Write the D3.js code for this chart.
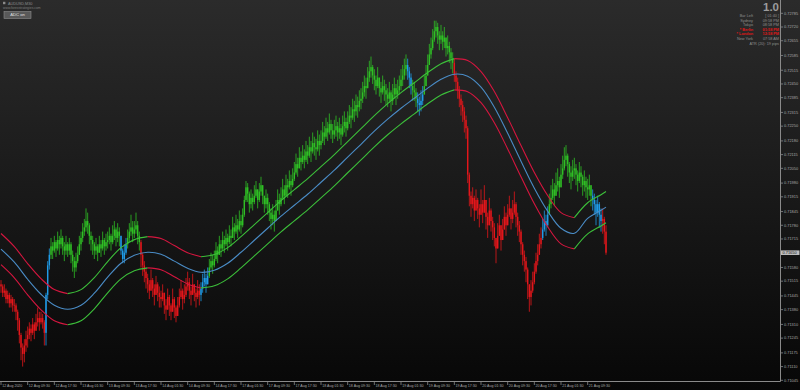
<!DOCTYPE html>
<html><head><meta charset="utf-8">
<script src="https://cdn.jsdelivr.net/npm/d3@7"></script>
<style>html,body{margin:0;padding:0;background:#111;}svg{display:block;}</style>
</head><body>
<svg id="c" width="800" height="390"></svg>
<script>
// ---------- DATA ----------
const timeLabels = ["12 Aug 2020","12 Aug 09:30","12 Aug 17:30","13 Aug 01:30","13 Aug 09:30","13 Aug 17:30","14 Aug 01:30","14 Aug 09:30","14 Aug 17:30","17 Aug 01:30","17 Aug 09:30","17 Aug 17:30","18 Aug 01:30","18 Aug 09:30","18 Aug 17:30","19 Aug 01:30","19 Aug 09:30","19 Aug 17:30","20 Aug 01:30","20 Aug 09:30","20 Aug 17:30","21 Aug 01:30","21 Aug 09:30"];
const barsPerLabel = 16;
const priceLabels = [0.72785,0.72720,0.72655,0.72585,0.72515,0.72450,0.72385,0.72315,0.72250,0.72180,0.72115,0.72050,0.71980,0.71915,0.71845,0.71780,0.71715,0.71580,0.71515,0.71445,0.71380,0.71310,0.71245,0.71175,0.71110,0.71045];
const currentPrice = 0.71650;
const firstOpen = 0.7150;
const closes = [
.7149,.7146,.7147,.7143,.7145,.7141,.7143,.7140,
.7140,.7137,.7133,.7126,.7120,.7117,.7121,.7124,
.7126,.7129,.7127,.7131,.7128,.7132,.7134,.7132,
.7134,.7132,.7127,.7145,.7159,.7164,.7168,.7166,
.7170,.7167,.7171,.7169,.7172,.7168,.7166,.7169,
.7166,.7169,.7164,.7161,.7158,.7161,.7164,.7169,
.7172,.7175,.7177,.7180,.7178,.7173,.7171,.7169,
.7166,.7168,.7165,.7169,.7167,.7171,.7168,.7170,
.7171,.7173,.7170,.7173,.7176,.7172,.7175,.7173,
.7166,.7162,.7165,.7169,.7172,.7175,.7177,.7174,
.7176,.7178,.7173,.7170,.7164,.7159,.7156,.7153,
.7150,.7147,.7152,.7148,.7145,.7150,.7146,.7144,
.7143,.7146,.7140,.7138,.7144,.7140,.7137,.7143,
.7139,.7135,.7140,.7144,.7147,.7143,.7145,.7149,
.7151,.7147,.7145,.7150,.7146,.7144,.7147,.7145,
.7148,.7151,.7153,.7150,.7154,.7158,.7161,.7159,
.7162,.7166,.7164,.7169,.7167,.7171,.7169,.7172,
.7170,.7173,.7172,.7177,.7175,.7178,.7176,.7180,
.7178,.7183,.7190,.7196,.7193,.7188,.7191,.7189,
.7192,.7195,.7190,.7194,.7197,.7192,.7188,.7191,
.7188,.7184,.7181,.7183,.7180,.7185,.7190,.7188,
.7191,.7195,.7192,.7197,.7196,.7199,.7197,.7200,
.7203,.7207,.7205,.7210,.7208,.7211,.7209,.7213,
.7211,.7215,.7213,.7217,.7215,.7214,.7218,.7216,
.7218,.7222,.7220,.7224,.7222,.7226,.7223,.7221,
.7223,.7225,.7222,.7224,.7221,.7225,.7227,.7224,
.7227,.7230,.7229,.7233,.7232,.7235,.7234,.7237,
.7238,.7241,.7244,.7243,.7248,.7251,.7253,.7249,
.7247,.7244,.7248,.7243,.7241,.7244,.7242,.7240,
.7238,.7241,.7237,.7240,.7243,.7240,.7242,.7244,
.7247,.7249,.7252,.7254,.7251,.7248,.7244,.7242,
.7241,.7238,.7236,.7235,.7237,.7240,.7244,.7249,
.7254,.7259,.7262,.7266,.7270,.7272,.7268,.7266,
.7268,.7265,.7267,.7262,.7263,.7260,.7257,.7255,
.7249,.7246,.7242,.7238,.7235,.7232,.7228,.7224,
.7202,.7192,.7188,.7191,.7185,.7190,.7186,.7183,
.7188,.7184,.7190,.7182,.7178,.7185,.7180,.7177,
.7172,.7167,.7173,.7178,.7171,.7176,.7182,.7178,
.7183,.7186,.7181,.7184,.7188,.7182,.7178,.7175,
.7169,.7164,.7161,.7157,.7150,.7144,.7147,.7151,
.7156,.7161,.7164,.7169,.7172,.7176,.7180,.7178,
.7183,.7188,.7191,.7195,.7192,.7197,.7199,.7196,
.7202,.7205,.7209,.7211,.7207,.7203,.7201,.7204,
.7205,.7202,.7199,.7203,.7201,.7197,.7199,.7196,
.7195,.7197,.7192,.7190,.7188,.7184,.7188,.7183,
.7180,.7181,.7175,.7165];
const highs = [
.7152,.7150,.7150,.7148,.7147,.7146,.7145,.7144,
.7143,.7141,.7138,.7134,.7127,.7122,.7124,.7128,
.7130,.7132,.7131,.7134,.7132,.7136,.7139,.7137,
.7137,.7136,.7133,.7146,.7161,.7167,.7172,.7170,
.7173,.7171,.7175,.7173,.7176,.7173,.7170,.7173,
.7170,.7172,.7170,.7166,.7163,.7165,.7168,.7173,
.7175,.7179,.7181,.7186,.7184,.7179,.7175,.7173,
.7170,.7172,.7169,.7173,.7171,.7175,.7172,.7174,
.7175,.7177,.7174,.7178,.7180,.7177,.7179,.7177,
.7172,.7167,.7169,.7172,.7176,.7179,.7183,.7180,
.7180,.7184,.7180,.7175,.7171,.7165,.7161,.7158,
.7155,.7152,.7157,.7153,.7150,.7154,.7151,.7149,
.7147,.7150,.7145,.7143,.7148,.7145,.7141,.7148,
.7144,.7140,.7144,.7148,.7152,.7148,.7150,.7153,
.7156,.7153,.7149,.7155,.7150,.7148,.7152,.7150,
.7151,.7155,.7157,.7155,.7158,.7162,.7165,.7164,
.7166,.7170,.7168,.7173,.7171,.7175,.7173,.7176,
.7174,.7178,.7176,.7182,.7179,.7183,.7181,.7185,
.7183,.7186,.7192,.7199,.7198,.7194,.7195,.7193,
.7197,.7199,.7195,.7198,.7201,.7197,.7192,.7195,
.7193,.7189,.7186,.7188,.7185,.7190,.7195,.7193,
.7196,.7200,.7197,.7202,.7200,.7204,.7202,.7205,
.7208,.7212,.7210,.7215,.7213,.7216,.7214,.7218,
.7216,.7220,.7218,.7222,.7220,.7219,.7223,.7221,
.7223,.7227,.7225,.7229,.7227,.7231,.7228,.7226,
.7228,.7230,.7227,.7229,.7226,.7230,.7232,.7229,
.7232,.7235,.7234,.7238,.7237,.7240,.7239,.7242,
.7243,.7246,.7249,.7248,.7253,.7256,.7258,.7254,
.7252,.7249,.7253,.7248,.7246,.7249,.7247,.7245,
.7243,.7246,.7242,.7245,.7248,.7245,.7247,.7249,
.7252,.7254,.7257,.7259,.7257,.7253,.7250,.7247,
.7246,.7243,.7241,.7239,.7242,.7244,.7249,.7254,
.7259,.7264,.7267,.7271,.7275,.7275,.7274,.7270,
.7273,.7270,.7272,.7267,.7268,.7265,.7262,.7260,
.7257,.7251,.7248,.7244,.7240,.7237,.7234,.7230,
.7225,.7203,.7194,.7196,.7192,.7195,.7191,.7188,
.7195,.7190,.7197,.7188,.7184,.7191,.7186,.7182,
.7179,.7172,.7179,.7183,.7177,.7181,.7187,.7184,
.7188,.7192,.7186,.7190,.7194,.7189,.7184,.7180,
.7176,.7170,.7166,.7163,.7158,.7150,.7152,.7156,
.7160,.7165,.7169,.7174,.7177,.7181,.7185,.7183,
.7187,.7193,.7197,.7200,.7198,.7203,.7205,.7201,
.7207,.7211,.7215,.7216,.7212,.7208,.7206,.7209,
.7210,.7207,.7204,.7208,.7206,.7202,.7204,.7201,
.7200,.7202,.7197,.7195,.7193,.7190,.7192,.7189,
.7186,.7186,.7182,.7178];
const lows = [
.7146,.7144,.7144,.7141,.7141,.7139,.7139,.7137,
.7137,.7133,.7128,.7122,.7114,.7111,.7113,.7118,
.7120,.7124,.7123,.7126,.7124,.7128,.7130,.7128,
.7131,.7129,.7121,.7121,.7143,.7157,.7162,.7162,
.7165,.7163,.7166,.7164,.7167,.7164,.7161,.7164,
.7163,.7164,.7160,.7156,.7153,.7156,.7160,.7164,
.7166,.7170,.7173,.7175,.7174,.7169,.7166,.7164,
.7162,.7164,.7161,.7165,.7163,.7166,.7164,.7166,
.7167,.7169,.7166,.7169,.7171,.7168,.7170,.7168,
.7164,.7160,.7160,.7164,.7167,.7170,.7173,.7170,
.7172,.7174,.7169,.7166,.7158,.7154,.7151,.7148,
.7146,.7143,.7147,.7144,.7140,.7145,.7142,.7139,
.7139,.7142,.7136,.7133,.7139,.7135,.7133,.7138,
.7134,.7132,.7135,.7139,.7143,.7138,.7141,.7144,
.7147,.7143,.7140,.7145,.7142,.7139,.7143,.7140,
.7142,.7146,.7149,.7146,.7150,.7153,.7157,.7155,
.7158,.7161,.7160,.7164,.7163,.7166,.7165,.7168,
.7166,.7169,.7168,.7172,.7171,.7174,.7172,.7175,
.7174,.7177,.7182,.7189,.7189,.7184,.7186,.7185,
.7188,.7191,.7186,.7189,.7192,.7188,.7184,.7186,
.7183,.7180,.7176,.7178,.7175,.7180,.7185,.7183,
.7187,.7190,.7188,.7192,.7191,.7195,.7192,.7196,
.7199,.7202,.7201,.7205,.7204,.7207,.7205,.7208,
.7207,.7210,.7208,.7212,.7211,.7209,.7213,.7211,
.7214,.7217,.7216,.7219,.7218,.7221,.7219,.7217,
.7219,.7220,.7218,.7219,.7216,.7220,.7222,.7220,
.7223,.7226,.7224,.7228,.7227,.7230,.7229,.7232,
.7233,.7236,.7239,.7238,.7243,.7246,.7248,.7245,
.7242,.7240,.7243,.7239,.7236,.7240,.7237,.7235,
.7234,.7236,.7232,.7235,.7238,.7235,.7238,.7240,
.7242,.7244,.7247,.7249,.7247,.7243,.7240,.7237,
.7237,.7234,.7232,.7230,.7232,.7235,.7240,.7244,
.7249,.7254,.7257,.7261,.7265,.7267,.7264,.7261,
.7264,.7261,.7262,.7258,.7259,.7255,.7252,.7250,
.7246,.7242,.7238,.7234,.7230,.7227,.7222,.7219,
.7198,.7187,.7182,.7186,.7180,.7185,.7181,.7177,
.7183,.7179,.7185,.7176,.7172,.7180,.7175,.7171,
.7168,.7160,.7168,.7173,.7166,.7171,.7177,.7173,
.7178,.7182,.7176,.7179,.7183,.7177,.7173,.7170,
.7164,.7159,.7156,.7151,.7143,.7137,.7140,.7146,
.7150,.7155,.7159,.7164,.7167,.7171,.7175,.7173,
.7177,.7183,.7186,.7190,.7187,.7192,.7194,.7191,
.7197,.7200,.7204,.7206,.7201,.7198,.7195,.7199,
.7200,.7197,.7194,.7198,.7196,.7192,.7194,.7191,
.7190,.7192,.7187,.7185,.7183,.7178,.7182,.7177,
.7175,.7174,.7169,.7164];
// candle colour runs: [first bar index, state]
const colorRuns = [[0,"down"],[27,"flat"],[30,"up"],[72,"flat"],[76,"up"],[84,"down"],[120,"flat"],[125,"up"],[244,"flat"],[247,"up"],[250,"flat"],[254,"up"],[272,"down"],[325,"flat"],[329,"up"],[355,"flat"],[361,"down"]];
// channel centre line, sampled at bar indices
const midBars = [0,8,16,24,32,40,48,56,64,72,80,88,96,104,112,120,128,136,144,152,160,168,176,184,192,200,208,216,224,232,240,248,256,264,272,280,288,296,304,312,320,328,336,344,352,360,363];
const midValues = [0.71667,0.71605,0.71524,0.71453,0.71401,0.71382,0.71401,0.71458,0.71534,0.71600,0.71638,0.71652,0.71643,0.71610,0.71576,0.71557,0.71567,0.71600,0.71652,0.71709,0.71766,0.71823,0.71875,0.71927,0.71984,0.72041,0.72103,0.72164,0.72226,0.72283,0.72335,0.72382,0.72430,0.72472,0.72496,0.72487,0.72435,0.72340,0.72216,0.72084,0.71956,0.71847,0.71766,0.71742,0.71813,0.71851,0.71866];
const bandWidth = 0.00074;
const infoLabels = ["Bar Left","Sydney","Tokyo","* Berlin","* London","New York"];
const infoValues = ["[ 01:40 ]","09:58 PM","08:58 PM","01:58 PM","12:58 PM","07:58 AM"];
const infoHot = [false,false,false,true,true,false];
const atrText = "ATR (20): 19 pips";
const versionText = "1.0";

// ---------- DRAW ----------
const W = 800, H = 390;
const plotRight = 780, plotBottom = 381;
const svg = d3.select("#c");
const FONT = "'Liberation Sans', Arial, sans-serif";

const defs = svg.append("defs");
const grad = defs.append("linearGradient").attr("id","bg").attr("x1",0).attr("y1",0).attr("x2",0).attr("y2",1);
grad.append("stop").attr("offset","0%").attr("stop-color","#2b2b2b");
grad.append("stop").attr("offset","100%").attr("stop-color","#070707");
svg.append("rect").attr("width",W).attr("height",H).attr("fill","url(#bg)");

const x = d3.scaleLinear().domain([0, barsPerLabel]).range([1, 1 + 26.667]);
const y = d3.scaleLinear().domain([priceLabels[priceLabels.length-1], priceLabels[0]]).range([380.3, 13.3]);

const colors = {down:"#e3161b", up:"#2fbf25", flat:"#1f9ce8"};
function stateAt(i){ let s = colorRuns[0][1]; for (const r of colorRuns){ if (r[0] <= i) s = r[1]; } return s; }

const bars = closes.map((c,i) => {
  const o = i ? closes[i-1] : firstOpen;
  return {i, o, c, h: Math.max(highs[i], o, c), l: Math.min(lows[i], o, c), s: stateAt(i)};
});

const gC = svg.append("g");
gC.selectAll("line.w").data(bars).join("line")
  .attr("x1", d => x(d.i)).attr("x2", d => x(d.i))
  .attr("y1", d => y(d.h)).attr("y2", d => y(d.l))
  .attr("stroke", d => colors[d.s]).attr("stroke-width", 0.8);
gC.selectAll("rect.b").data(bars).join("rect")
  .attr("x", d => x(d.i) - 0.7).attr("width", 1.4)
  .attr("y", d => y(Math.max(d.o, d.c)))
  .attr("height", d => Math.max(0.6, Math.abs(y(d.o) - y(d.c))))
  .attr("fill", d => colors[d.s]);

// channel lines
const mid = midBars.map((b,k) => ({b, v: midValues[k]}));
const line = d3.line().x(d => x(d.b)).y(d => y(d.v)).curve(d3.curveCatmullRom);
function runs(offset){
  const out = []; let cur = null;
  for (let k = 1; k < mid.length; k++){
    const up = mid[k].v >= mid[k-1].v;
    const p0 = {b: mid[k-1].b, v: mid[k-1].v + offset}, p1 = {b: mid[k].b, v: mid[k].v + offset};
    if (!cur || cur.up !== up){ cur = {up, pts:[p0]}; out.push(cur); }
    cur.pts.push(p1);
  }
  return out;
}
const gL = svg.append("g").attr("fill","none");
[bandWidth, -bandWidth].forEach(off => {
  runs(off).forEach(r => {
    gL.append("path").attr("d", line(r.pts)).attr("stroke", r.up ? "#3cbf3a" : "#d5163f").attr("stroke-width", 1.1);
  });
});
gL.append("path").attr("d", line(mid.map(d => ({b:d.b, v:d.v})))).attr("stroke", "#4a8cc6").attr("stroke-width", 1.1);

// axes frame
svg.append("line").attr("x1", plotRight+0.5).attr("x2", plotRight+0.5).attr("y1", 0).attr("y2", plotBottom+0.5).attr("stroke","#8a8a8a").attr("stroke-width",1);
svg.append("line").attr("x1", 0).attr("x2", plotRight+0.5).attr("y1", plotBottom+0.5).attr("y2", plotBottom+0.5).attr("stroke","#8a8a8a").attr("stroke-width",1);

// price axis
const gY = svg.append("g");
priceLabels.forEach(v => {
  const yy = y(v);
  gY.append("line").attr("x1", plotRight).attr("x2", plotRight+3).attr("y1", yy).attr("y2", yy).attr("stroke","#8a8a8a").attr("stroke-width",0.8);
  gY.append("text").attr("x", plotRight+4).attr("y", yy+1.3).text(v.toFixed(5))
    .attr("font-family", FONT).attr("font-size", 3.9).attr("fill", "#a8a8a8");
});
const cp = y(currentPrice);
gY.append("rect").attr("x", plotRight+1).attr("y", cp-2.3).attr("width", 18.5).attr("height", 4.6).attr("fill", "#bdbdbd");
gY.append("text").attr("x", plotRight+2.5).attr("y", cp+1.4).text(currentPrice.toFixed(5))
  .attr("font-family", FONT).attr("font-size", 3.9).attr("fill", "#111");

// time axis
const gX = svg.append("g");
timeLabels.forEach((t,k) => {
  const xx = x(k*barsPerLabel);
  gX.append("line").attr("x1", xx).attr("x2", xx).attr("y1", plotBottom).attr("y2", plotBottom+4).attr("stroke","#8a8a8a").attr("stroke-width",0.8);
  gX.append("text").attr("x", xx+1.2).attr("y", plotBottom+5.8).text(t)
    .attr("font-family", FONT).attr("font-size", 3.6).attr("fill", "#a8a8a8");
});

// top-left header
const gT = svg.append("g").attr("font-family", FONT);
gT.append("rect").attr("x",3).attr("y",1.8).attr("width",2.4).attr("height",2.4).attr("fill","#8a8a8a");
gT.append("text").attr("x",8).attr("y",4.6).text("AUDUSD,M30").attr("font-size",3.8).attr("fill","#8c8c8c");
gT.append("text").attr("x",3).attr("y",9).text("www.forexstrategies.com").attr("font-size",3.4).attr("fill","#7c7c7c");
gT.append("rect").attr("x",4).attr("y",11.5).attr("width",27).attr("height",7).attr("fill","#595959").attr("stroke","#8c8c8c").attr("stroke-width",0.6);
gT.append("text").attr("x",17.5).attr("y",16.3).attr("text-anchor","middle").text("ADC on").attr("font-size",4.2).attr("fill","#e0e0e0");

// top-right info panel
const gI = svg.append("g").attr("font-family", FONT);
gI.append("text").attr("x",779).attr("y",11.2).attr("text-anchor","end").text(versionText)
  .attr("font-size",11.5).attr("font-weight","bold").attr("fill","#9c9c9c");
const rowY = [17.4, 21.8, 26.2, 30.6, 35.2, 39.8];
infoLabels.forEach((t,k) => {
  gI.append("text").attr("x",753).attr("y",rowY[k]).attr("text-anchor","end").text(t)
    .attr("font-size",3.8).attr("fill", infoHot[k] ? "#e01818" : "#8e8e8e").attr("font-weight", infoHot[k] ? "bold" : "normal");
  gI.append("text").attr("x",779).attr("y",rowY[k]).attr("text-anchor","end").text(infoValues[k])
    .attr("font-size",3.8).attr("fill", infoHot[k] ? "#e01818" : "#8e8e8e").attr("font-weight", infoHot[k] ? "bold" : "normal");
});
gI.append("text").attr("x",779).attr("y",44.5).attr("text-anchor","end").text(atrText)
  .attr("font-size",3.8).attr("fill","#8e8e8e");
</script>
</body></html>
